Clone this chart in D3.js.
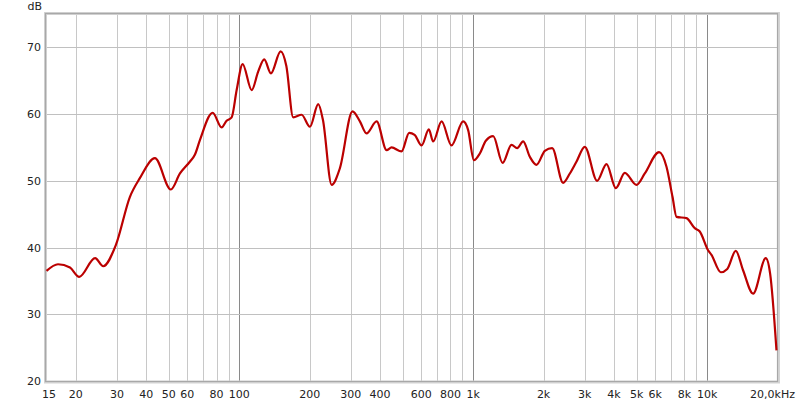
<!DOCTYPE html>
<html><head><meta charset="utf-8">
<script src="https://cdn.jsdelivr.net/npm/d3@7/dist/d3.min.js"></script>
<style>body{margin:0;background:#fff}svg{display:block}text{font-family:"DejaVu Sans",sans-serif;font-size:11px;fill:#222}</style>
</head><body><svg id="c" width="800" height="402"></svg>
<script>
const freqs = [15,16.8,18.9,20.7,24.2,26.2,29.7,34.1,37.6,43.6,51,55.8,61.6,64.6,67.9,77,84.1,88.3,92.8,97.5,103.4,113,120.6,127.9,136.6,150.3,159,170.1,184.8,200.5,217.6,228,248.3,269.4,305,328,350,386.6,426.6,448,494,532.6,562,601.8,646.6,674.5,733,808,906,952,1007,1068,1133,1218,1336,1459,1542,1636,1747,1866,2025,2176,2425,2590,2767,3001,3388,3717,4072,4449,4993,5417,6235,6706,7115,7400,8166,8858,9307,10099,10443,11444,12200,13263,14250,15727,17821,18600,19800];
const levels = [36.5,37.5,37.0,35.6,38.4,37.2,40.4,47.6,50.4,53.4,48.7,51.1,52.9,53.9,56.1,60.2,58.0,59.0,59.5,63.6,67.5,63.6,66.4,68.2,66.1,69.4,67.2,59.5,59.9,58.1,61.5,59.1,49.4,51.9,60.4,58.9,57.1,58.9,54.6,55.0,54.4,57.2,56.9,55.3,57.7,55.9,58.9,55.3,58.9,57.6,53.1,54.1,56.0,56.7,52.7,55.4,54.9,55.9,53.6,52.4,54.5,54.9,49.7,51.1,52.9,55.1,50.0,52.5,48.9,51.2,49.4,51.1,54.3,52.1,47.6,44.6,44.4,42.9,42.4,39.6,38.9,36.3,36.8,39.5,36.6,33.1,38.4,36.1,24.6];
const yTicks = [20,30,40,50,60,70];
const xTickVals = [15,20,30,40,50,60,80,100,200,300,400,600,800,1000,2000,3000,4000,5000,6000,8000,10000];
const xTickLabels = ["15","20","30","40","50","60","80","100","200","300","400","600","800","1k","2k","3k","4k","5k","6k","8k","10k"];
const endLabel = "20,0kHz";
const unitLabel = "dB";

const svg = d3.select("#c");
const L=46.5,R=777.5,T=14,B=381;
const x = d3.scaleLog().domain([15,20000]).range([L,R]);
const y = d3.scaleLinear().domain([20,75]).range([B,T]);

// grid lines
const gridF = [];
[10,100,1000,10000].forEach(d=>{for(let m=1;m<=9;m++){const f=d*m; if(f>15 && f<20000) gridF.push(f);}});
svg.append("g").selectAll("line").data(gridF).join("line")
  .attr("x1",d=>Math.round(x(d))+0.5).attr("x2",d=>Math.round(x(d))+0.5)
  .attr("y1",T).attr("y2",B)
  .attr("stroke",d=>[100,1000,10000].includes(d)?"#8a8a8a":"#c8c8c8").attr("stroke-width",1);
svg.append("g").selectAll("line").data(yTicks.filter(v=>v>20)).join("line")
  .attr("x1",L).attr("x2",R)
  .attr("y1",d=>Math.round(y(d))+0.5).attr("y2",d=>Math.round(y(d))+0.5)
  .attr("stroke","#c0c0c0").attr("stroke-width",1);

// frame
svg.append("rect").attr("x",45.5).attr("y",13.5).attr("width",733).attr("height",368.5)
  .attr("fill","none").attr("stroke","#d4d4d4").attr("stroke-width",3);
svg.append("rect").attr("x",45.5).attr("y",13.5).attr("width",732).attr("height",368)
  .attr("fill","none").attr("stroke","#a8a8a8").attr("stroke-width",1.2);

// curve
const data = freqs.map((f,i)=>({f,v:levels[i]}));
svg.append("path").datum(data)
  .attr("d",d3.line().x(d=>x(d.f)).y(d=>y(d.v)).curve(d3.curveMonotoneX))
  .attr("fill","none").attr("stroke","#bb0000").attr("stroke-width",2.2).attr("stroke-linejoin","round");

// y labels
svg.append("g").selectAll("text").data(yTicks).join("text")
  .attr("x",41).attr("y",d=>y(d)+4).attr("text-anchor","end").text(d=>d);
svg.append("text").attr("x",42).attr("y",10).attr("text-anchor","end").text(unitLabel);

// x labels
svg.append("g").selectAll("text").data(xTickVals).join("text")
  .attr("x",(d,i)=>i===0?49:x(d)).attr("y",398).attr("text-anchor","middle").text((d,i)=>xTickLabels[i]);
svg.append("text").attr("x",795).attr("y",398).attr("text-anchor","end").text(endLabel);
</script></body></html>
